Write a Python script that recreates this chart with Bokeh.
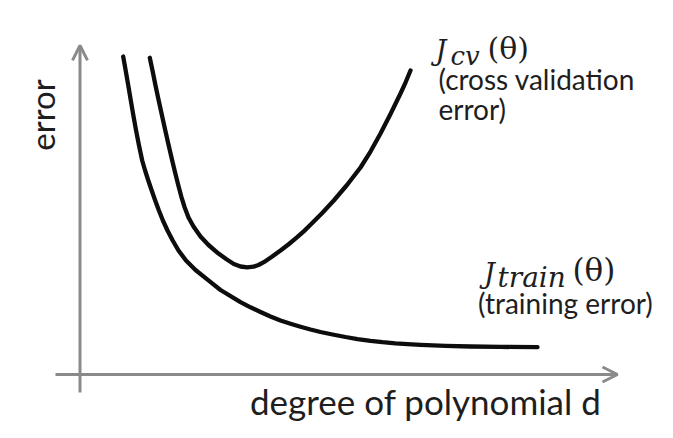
from math import pi
from bokeh.plotting import figure
from bokeh.models import Label, Arrow, OpenHead, Range1d
from bokeh.embed import file_html
from bokeh.resources import INLINE

# ---- data ----
degree_train = [0.864, 0.914, 0.966, 1.016, 1.068, 1.122, 1.180, 1.244, 1.302, 1.366,
                1.434, 1.504, 1.578, 1.658, 1.750, 1.854, 1.970, 2.120, 2.310, 2.544,
                2.810, 3.210, 3.410, 3.610, 3.810, 4.010, 4.210, 4.410, 4.610, 4.810,
                5.050, 5.310, 5.550, 5.810, 6.050, 6.310, 6.550, 6.810, 7.310, 7.810,
                8.410, 9.150]
error_train = [10.600, 10.133, 9.633, 9.133, 8.633, 8.133, 7.633, 7.133, 6.800, 6.467,
               6.133, 5.800, 5.467, 5.133, 4.800, 4.467, 4.133, 3.800, 3.483, 3.173,
               2.817, 2.410, 2.240, 2.083, 1.933, 1.800, 1.693, 1.593, 1.500, 1.417,
               1.333, 1.250, 1.183, 1.123, 1.077, 1.037, 1.010, 0.987, 0.957, 0.933,
               0.920, 0.910]

degree_cv = [1.396, 1.450, 1.510, 1.574, 1.640, 1.706, 1.774, 1.844, 1.902, 1.962,
             2.026, 2.094, 2.170, 2.270, 2.410, 2.570, 2.770, 2.930, 3.076, 3.210,
             3.344, 3.470, 3.570, 3.676, 3.830, 4.010, 4.180, 4.344, 4.480, 4.610,
             4.840, 5.076, 5.340, 5.610, 5.810, 6.010, 6.210, 6.410, 6.510, 6.610]
error_cv = [10.557, 10.133, 9.633, 9.133, 8.633, 8.133, 7.633, 7.133, 6.733, 6.333,
            5.933, 5.567, 5.233, 4.933, 4.600, 4.317, 4.033, 3.840, 3.683, 3.600,
            3.573, 3.593, 3.650, 3.743, 3.917, 4.133, 4.350, 4.577, 4.780, 4.990,
            5.377, 5.800, 6.317, 6.900, 7.433, 8.033, 8.683, 9.367, 9.733, 10.133]

x_axis_extent = [-0.49, 10.75]
y_axis_extent = [-0.6, 10.97]

x_label = "degree of polynomial d"
y_label = "error"

AXIS_GRAY = "#8a8a8a"
INK = "#0d0d0d"
TEXT = "#1e1e1e"

p = figure(width=657, height=422, output_backend="svg", toolbar_location=None,
           x_range=Range1d(-1.59, 11.55), y_range=Range1d(-1.6, 12.467),
           x_axis_type=None, y_axis_type=None, min_border=0)
p.grid.visible = False
p.outline_line_color = None
p.background_fill_color = "white"

# axes drawn as arrows
p.add_layout(Arrow(end=OpenHead(size=15, line_color=AXIS_GRAY, line_width=3),
                   x_start=x_axis_extent[0], y_start=0, x_end=x_axis_extent[1], y_end=0,
                   line_color=AXIS_GRAY, line_width=3))
p.add_layout(Arrow(end=OpenHead(size=15, line_color=AXIS_GRAY, line_width=3),
                   x_start=0, y_start=y_axis_extent[0], x_end=0, y_end=y_axis_extent[1],
                   line_color=AXIS_GRAY, line_width=3))

# curves
p.line(degree_train, error_train, line_color=INK, line_width=4.3,
       line_cap="round", line_join="round")
p.line(degree_cv, error_cv, line_color=INK, line_width=4.3,
       line_cap="round", line_join="round")

# axis labels
p.add_layout(Label(x=-0.76, y=8.65, text=y_label, angle=pi / 2, text_align="center",
                   text_baseline="middle", text_font="Lato", text_font_size="33px",
                   text_color=TEXT))
p.add_layout(Label(x=3.40, y=-1.567, text=x_label, text_align="left",
                   text_baseline="bottom", text_font="Lato", text_font_size="35px",
                   text_color=TEXT))

# J_cv(theta)
p.add_layout(Label(x=7.11, y=10.27, text="J", text_font="DejaVu Serif",
                   text_font_style="italic", text_font_size="27px", text_color=TEXT))
p.add_layout(Label(x=7.41, y=10.13, text="cv", text_font="DejaVu Serif",
                   text_font_style="italic", text_font_size="26px", text_color=TEXT))
p.add_layout(Label(x=8.15, y=10.3, text="(θ)", text_font="DejaVu Serif",
                   text_font_size="30px", text_color=TEXT))
p.add_layout(Label(x=7.17, y=9.3, text="(cross validation", text_font="Lato",
                   text_font_size="28px", text_color=TEXT))
p.add_layout(Label(x=7.17, y=8.3, text="error)", text_font="Lato",
                   text_font_size="28px", text_color=TEXT))

# J_train(theta)
p.add_layout(Label(x=8.08, y=2.86, text="J", text_font="DejaVu Serif",
                   text_font_style="italic", text_font_size="27px", text_color=TEXT))
p.add_layout(Label(x=8.35, y=2.7, text="train", text_font="DejaVu Serif",
                   text_font_style="italic", text_font_size="28px", text_color=TEXT))
p.add_layout(Label(x=9.85, y=2.9, text="(θ)", text_font="DejaVu Serif",
                   text_font_size="31px", text_color=TEXT))
p.add_layout(Label(x=7.96, y=1.83, text="(training error)", text_font="Lato",
                   text_font_size="28px", text_color=TEXT))

open("out.html", "w").write(file_html(p, INLINE))
